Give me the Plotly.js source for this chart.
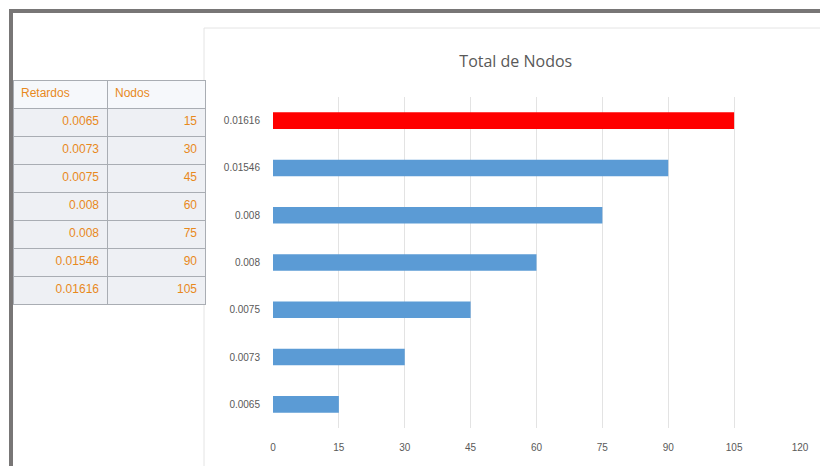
<!DOCTYPE html>
<html>
<head>
<meta charset="utf-8">
<script src="https://cdn.plot.ly/plotly-3.0.1.min.js"></script>
<style>html,body{margin:0;padding:0;background:#fff}#chart{width:820px;height:466px}</style>
</head>
<body>
<div id="chart"></div>
<script>
// Data
const retardos = ["0.0065", "0.0073", "0.0075", "0.008", "0.008", "0.01546", "0.01616"];
const nodos = [15, 30, 45, 60, 75, 90, 105];
const barColors = ["#5b9bd5", "#5b9bd5", "#5b9bd5", "#5b9bd5", "#5b9bd5", "#5b9bd5", "#ff0000"];
const xTicks = [0, 15, 30, 45, 60, 75, 90, 105, 120];
const tableHeader = ["Retardos", "Nodos"];

const W = 820, H = 466;
const px = v => v / W;
const py = v => 1 - v / H;
const idx = retardos.map((_, i) => i);

const bar = {
  type: "bar",
  orientation: "h",
  x: nodos,
  y: idx,
  width: 0.35,
  marker: {color: barColors},
  xaxis: "x", yaxis: "y",
  hoverinfo: "x+text",
  text: retardos,
  textposition: "none"
};

const table = {
  type: "table",
  domain: {x: [px(13), px(205)], y: [py(306), py(80)]},
  columnwidth: [94, 98],
  header: {
    values: tableHeader,
    align: "left",
    height: 28,
    fill: {color: "#f6f8fb"},
    line: {color: "#a9adb3", width: 1},
    font: {family: "Liberation Sans, Arial, sans-serif", size: 12, color: "#e8891c"}
  },
  cells: {
    values: [retardos, nodos.map(String)],
    align: "right",
    height: 28,
    fill: {color: "#eef0f4"},
    line: {color: "#a9adb3", width: 1},
    font: {family: "Liberation Sans, Arial, sans-serif", size: 12, color: "#e8891c"}
  }
};

const layout = {
  width: W, height: H,
  margin: {l: 0, r: 0, t: 0, b: 0},
  paper_bgcolor: "#ffffff",
  plot_bgcolor: "rgba(0,0,0,0)",
  showlegend: false,
  title: {
    text: "Total de Nodos",
    x: 0.629, xanchor: "center",
    y: py(61), yanchor: "middle",
    font: {family: "Open Sans, Liberation Sans, sans-serif", size: 16, color: "#595959"}
  },
  xaxis: {
    domain: [px(273), px(800)],
    range: [0, 120],
    tickvals: xTicks,
    ticktext: xTicks.map(String),
    showgrid: true, gridcolor: "#e3e3e3", gridwidth: 1,
    zeroline: false, showline: false,
    ticks: "", ticklen: 0,
    ticklabelstandoff: 12,
    tickfont: {family: "Liberation Sans, Arial, sans-serif", size: 10, color: "#595959"},
    anchor: "y",
    automargin: false
  },
  yaxis: {
    domain: [py(428), py(97)],
    range: [-0.5, 6.5],
    tickvals: idx,
    ticktext: retardos,
    showgrid: false, zeroline: false, showline: false,
    ticks: "",
    ticklabelstandoff: 12,
    tickfont: {family: "Liberation Sans, Arial, sans-serif", size: 10, color: "#595959"},
    anchor: "x",
    automargin: false
  },
  shapes: [
    // chart panel
    {type: "rect", xref: "paper", yref: "paper", x0: px(204), x1: px(822), y0: py(470), y1: py(28),
     line: {color: "#e4e4e4", width: 1}, fillcolor: "rgba(0,0,0,0)", layer: "below"},
    // outer frame top
    {type: "line", xref: "paper", yref: "paper", x0: px(9), x1: px(820), y0: py(11), y1: py(11),
     line: {color: "#787676", width: 4}},
    // outer frame left
    {type: "line", xref: "paper", yref: "paper", x0: px(11), x1: px(11), y0: py(9), y1: py(466),
     line: {color: "#787676", width: 4}}
  ]
};

Plotly.newPlot("chart", [bar, table], layout, {displayModeBar: false, staticPlot: true});
</script>
</body>
</html>
